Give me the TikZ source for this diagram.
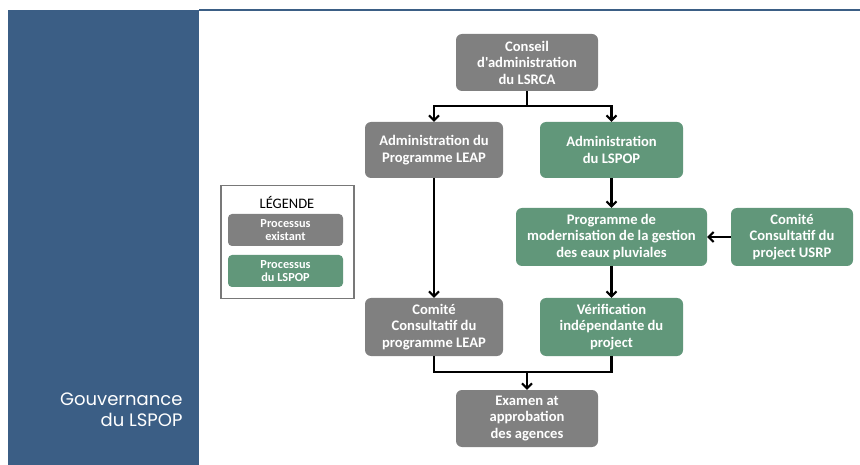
\documentclass[tikz,border=0pt]{standalone}
\usepackage{fontspec}
\usepackage{tikz}
\usetikzlibrary{arrows.meta,positioning,calc}
\newfontfamily\boxfont{Carlito}
\newfontfamily\panelfont{Poppins}
\definecolor{panelblue}{RGB}{59,94,133}
\definecolor{procgrey}{RGB}{128,128,128}
\definecolor{procgreen}{RGB}{97,151,122}
\definecolor{framegrey}{RGB}{120,120,120}

\begin{document}
\begin{tikzpicture}[x=1pt, y=-1pt,
    existing/.style={rectangle, rounded corners=6pt, fill=procgrey,
        text=white, align=center, inner sep=2pt,
        font=\boxfont\bfseries\fontsize{14.6}{16.5}\selectfont},
    lspop/.style={existing, fill=procgreen},
    legitem/.style={rectangle, rounded corners=4pt, text=white, align=center,
        minimum width=115pt, minimum height=32pt, inner sep=1pt,
        font=\boxfont\bfseries\fontsize{12.3}{13}\selectfont},
    link/.style={line width=2.2pt, black},
    arr/.style={link, -{Straight Barb[length=5pt, width=10pt, line width=2pt]}}
]
    \useasboundingbox (0,0) rectangle (860,465);
    \fill[white] (0,0) rectangle (860,465);

    % side panel and top rule
    \fill[panelblue] (8,10) rectangle (199,465);
    \draw[panelblue, line width=1.8pt] (199,10) -- (860,10);
    \node[anchor=east, align=right, text=white,
          font=\panelfont\fontsize{18}{21}\selectfont] (title) at (186,410)
        {Gouvernance\\du LSPOP};

    % legend
    \node[draw=framegrey, line width=1.5pt, minimum width=133pt,
          minimum height=113pt] (legframe) at (287.5,242) {};
    \node[font=\boxfont\fontsize{14.5}{16}\selectfont] (legtitle) at (287,202) {LÉGENDE};
    \node[legitem, fill=procgrey] (legexist) at (285.5,230) {Processus\\existant};
    \node[legitem, fill=procgreen] (leglspop) at (285.5,271) {Processus\\du LSPOP};

    % process boxes
    \node[existing, minimum width=142pt, minimum height=57pt] (conseil) at (527,62.5)
        {Conseil\\d'administration\\du LSRCA};
    \node[existing, minimum width=138pt, minimum height=56pt] (adminleap) at (434,150)
        {Administration du\\Programme LEAP};
    \node[lspop, minimum width=143pt, minimum height=56pt] (adminlspop) at (611.5,150)
        {Administration\\du LSPOP};
    \node[lspop, minimum width=191pt, minimum height=58pt] (programme) at (611.5,237)
        {Programme de\\modernisation de la gestion\\des eaux pluviales};
    \node[lspop, minimum width=122pt, minimum height=58pt] (usrp) at (792,237)
        {Comité\\Consultatif du\\project USRP};
    \node[existing, minimum width=138pt, minimum height=58pt] (comiteleap) at (434,327)
        {Comité\\Consultatif du\\programme LEAP};
    \node[lspop, minimum width=143pt, minimum height=58pt] (verif) at (611.5,327)
        {Vérification\\indépendante du\\project};
    \node[existing, minimum width=142pt, minimum height=57pt] (examen) at (527,418.5)
        {Examen at\\approbation\\des agences};

    % connectors
    \draw[arr] (conseil.south) -- ++(0,15) -| (adminleap.north);
    \draw[arr] (conseil.south) -- ++(0,15) -| (adminlspop.north);
    \draw[arr] (adminleap.south) -- (comiteleap.north);
    \draw[arr] (adminlspop.south) -- (programme.north);
    \draw[arr] (usrp.west) -- (programme.east);
    \draw[arr] (programme.south) -- (verif.north);
    \draw[link] (comiteleap.south) -- ++(0,16) coordinate (joinbus) -| (verif.south);
    \draw[arr] (joinbus -| examen.north) -- (examen.north);
\end{tikzpicture}
\end{document}
